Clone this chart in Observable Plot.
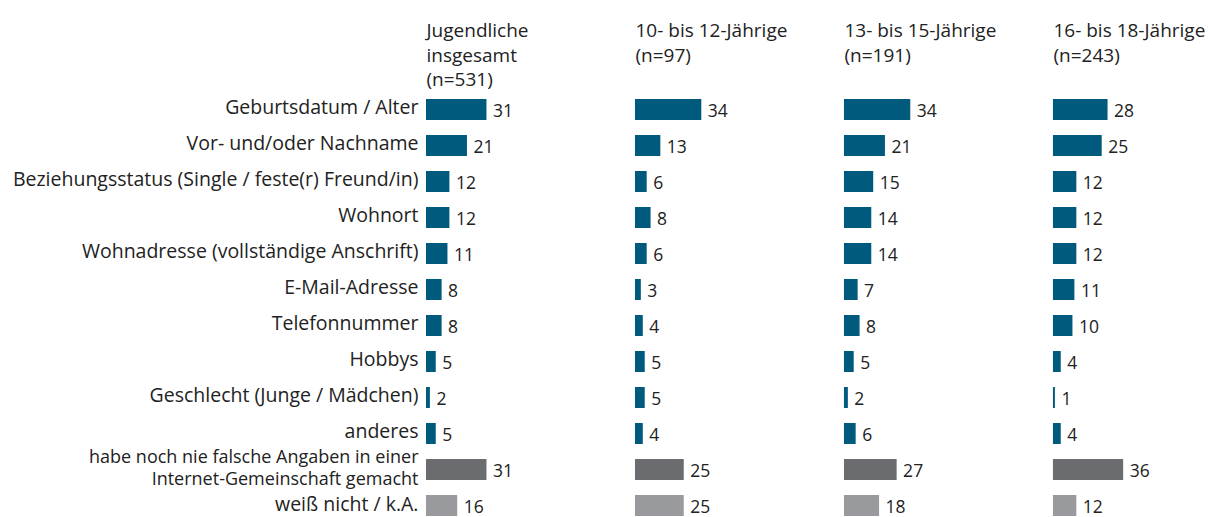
<!DOCTYPE html>
<html>
<head>
<meta charset="utf-8">
<script src="https://cdn.jsdelivr.net/npm/d3@7"></script>
<script src="https://cdn.jsdelivr.net/npm/@observablehq/plot@0.6"></script>
<style>
  html, body { margin: 0; padding: 0; background: #fff; }
  #chart { width: 1208px; height: 517px; }
</style>
</head>
<body>
<div id="chart"></div>
<script>
const categories = [
  "Geburtsdatum / Alter",
  "Vor- und/oder Nachname",
  "Beziehungsstatus (Single / feste(r) Freund/in)",
  "Wohnort",
  "Wohnadresse (vollständige Anschrift)",
  "E-Mail-Adresse",
  "Telefonnummer",
  "Hobbys",
  "Geschlecht (Junge / Mädchen)",
  "anderes",
  "habe noch nie falsche Angaben in einer\nInternet-Gemeinschaft gemacht",
  "weiß nicht / k.A."
];
const groups = [
  "Jugendliche\ninsgesamt\n(n=531)",
  "10- bis 12-Jährige\n(n=97)",
  "13- bis 15-Jährige\n(n=191)",
  "16- bis 18-Jährige\n(n=243)"
];
const insgesamt = [31, 21, 12, 12, 11, 8, 8, 5, 2, 5, 31, 16];
const jahre10bis12 = [34, 13, 6, 8, 6, 3, 4, 5, 5, 4, 25, 25];
const jahre13bis15 = [34, 21, 15, 14, 14, 7, 8, 5, 2, 6, 27, 18];
const jahre16bis18 = [28, 25, 12, 12, 12, 11, 10, 4, 1, 4, 36, 12];
const rowKind = ["a","a","a","a","a","a","a","a","a","a","nie","wn"];

const series = [insgesamt, jahre10bis12, jahre13bis15, jahre16bis18];
const data = [];
series.forEach((vals, gi) => {
  vals.forEach((v, ci) => {
    data.push({group: groups[gi], cat: categories[ci], value: v, kind: rowKind[ci]});
  });
});
const headers = groups.map(g => ({group: g}));
const labelRows = categories.map((c, i) => ({group: groups[0], cat: c, kind: rowKind[i]}));
const labelsMain = labelRows.filter(d => d.kind === "a");
const labelsNie = labelRows.filter(d => d.kind === "nie");
const labelsWn = labelRows.filter(d => d.kind === "wn");

const chart = Plot.plot({
  width: 1208,
  height: 517,
  marginLeft: 426,
  marginRight: 0,
  marginTop: 99,
  marginBottom: 1,
  style: {fontFamily: "'Open Sans', sans-serif", color: "#222", background: "#fff"},
  fx: {domain: groups, axis: null, paddingInner: 0.258, paddingOuter: 0, round: false},
  x: {domain: [0, 79.5], axis: null},
  y: {domain: categories, paddingInner: 0.417, paddingOuter: 0, axis: null, label: null, round: false},
  color: {domain: ["a", "nie", "wn"], range: ["#005a7e", "#6b6c70", "#999a9e"]},
  marks: [
    Plot.barX(data, {fx: "group", y: "cat", x: "value", fill: "kind"}),
    Plot.text(data, {fx: "group", y: "cat", x: "value", text: d => String(d.value),
      textAnchor: "start", dx: 6, dy: 1, fontSize: 17.5, fill: "#222"}),
    Plot.text(labelsMain, {fx: "group", y: "cat", text: "cat", frameAnchor: "left",
      textAnchor: "end", dx: -8, dy: -2.5, fontSize: 19.5, fill: "#222"}),
    Plot.text(labelsNie, {fx: "group", y: "cat", text: "cat", frameAnchor: "left",
      textAnchor: "end", dx: -8, dy: -3, fontSize: 18, lineHeight: 1.25, fill: "#222"}),
    Plot.text(labelsWn, {fx: "group", y: "cat", text: "cat", frameAnchor: "left",
      textAnchor: "end", dx: -8, dy: -1, fontSize: 19.5, fill: "#222"}),
    Plot.text(headers, {fx: "group", text: "group", frameAnchor: "top-left", lineAnchor: "top",
      dy: -79.5, dx: 0, fontSize: 19, lineHeight: 1.29, fill: "#222"})
  ]
});
document.getElementById("chart").appendChild(chart);
</script>
</body>
</html>
